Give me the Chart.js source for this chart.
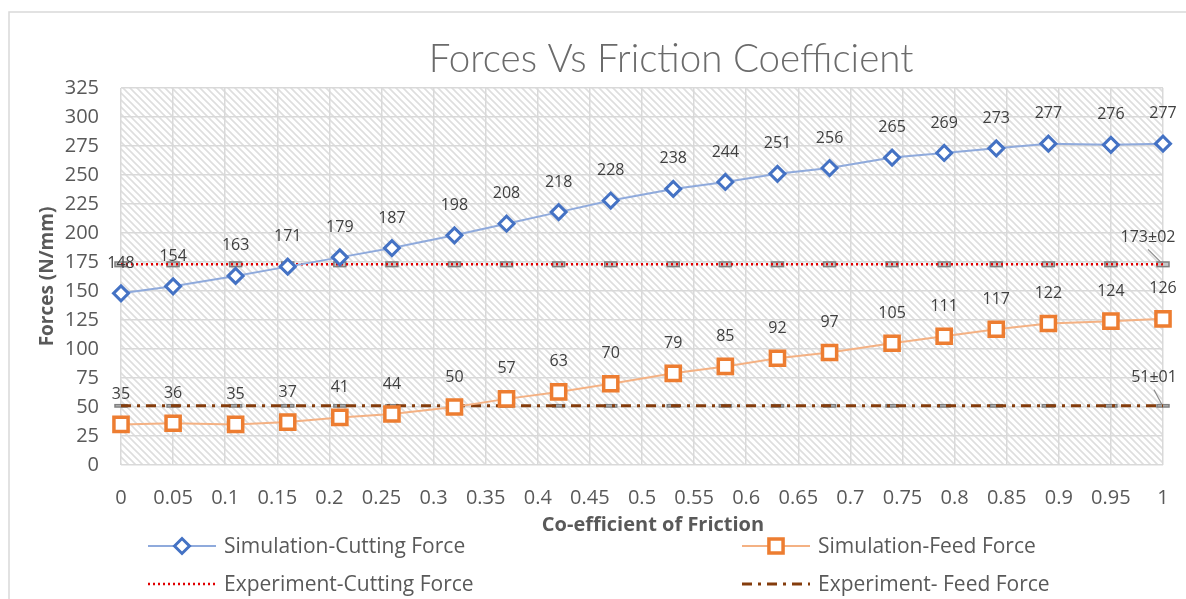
<!DOCTYPE html>
<html>
<head>
<title>Forces Vs Friction Coefficient</title>
<script src="https://cdn.jsdelivr.net/npm/chart.js"></script>
<style>
  html, body { margin: 0; padding: 0; background: #fff; }
</style>
</head>
<body>
<canvas id="forceChart" width="1186" height="599"></canvas>
<script>
// coefficient of friction at each simulated point
const friction = [0, 0.05, 0.11, 0.16, 0.21, 0.26, 0.32, 0.37, 0.42, 0.47,
                  0.53, 0.58, 0.63, 0.68, 0.74, 0.79, 0.84, 0.89, 0.95, 1];
const cuttingSim = [148, 154, 163, 171, 179, 187, 198, 208, 218, 228,
                    238, 244, 251, 256, 265, 269, 273, 277, 276, 277];
const feedSim = [35, 36, 35, 37, 41, 44, 50, 57, 63, 70,
                 79, 85, 92, 97, 105, 111, 117, 122, 124, 126];
const cuttingExp = [173, 173, 173, 173, 173, 173, 173, 173, 173, 173,
                    173, 173, 173, 173, 173, 173, 173, 173, 173, 173];
const feedExp = [51, 51, 51, 51, 51, 51, 51, 51, 51, 51,
                 51, 51, 51, 51, 51, 51, 51, 51, 51, 51];
const cuttingExpErr = 2;
const feedExpErr = 1;
const expLabels = ['173±02', '51±01'];
const seriesNames = ['Simulation-Cutting Force', 'Simulation-Feed Force',
                     'Experiment-Cutting Force', 'Experiment- Feed Force'];
const xTicks = [0, 0.05, 0.1, 0.15, 0.2, 0.25, 0.3, 0.35, 0.4, 0.45, 0.5,
                0.55, 0.6, 0.65, 0.7, 0.75, 0.8, 0.85, 0.9, 0.95, 1];
const yTicks = [0, 25, 50, 75, 100, 125, 150, 175, 200, 225, 250, 275, 300, 325];

const FONT = '"Open Sans", Lato, sans-serif';
const TITLE_FONT = 'Lato, "Open Sans", sans-serif';
const toXY = (ys) => ys.map((y, i) => ({ x: friction[i], y: y }));

// hatch fill for plot area
function hatch() {
    const c = document.createElement('canvas');
    c.width = 7; c.height = 7;
    const g = c.getContext('2d');
    g.strokeStyle = '#dedede';
    g.lineWidth = 1.6;
    g.beginPath();
    g.moveTo(-1, -1); g.lineTo(8, 8);
    g.moveTo(-1, 6); g.lineTo(1, 8);
    g.moveTo(6, -1); g.lineTo(8, 1);
    g.stroke();
    return c;
}

const backdrop = {
    id: 'backdrop',
    beforeDraw(chart) {
        const ctx = chart.ctx, a = chart.chartArea;
        ctx.save();
        ctx.fillStyle = '#fff';
        ctx.fillRect(0, 0, chart.width, chart.height);
        ctx.strokeStyle = '#d9d9d9';
        ctx.lineWidth = 1.5;
        ctx.strokeRect(9, 12, chart.width + 20, chart.height + 20);
        ctx.fillStyle = ctx.createPattern(hatch(), 'repeat');
        ctx.fillRect(a.left, a.top, a.right - a.left, a.bottom - a.top);
        ctx.restore();
    }
};

// small error bars on the experiment lines
const errorBars = {
    id: 'errorBars',
    beforeDatasetsDraw(chart) {
        const ctx = chart.ctx, ys = chart.scales.y;
        const errs = { 2: cuttingExpErr, 3: feedExpErr };
        ctx.save();
        ctx.strokeStyle = '#808080';
        ctx.fillStyle = '#c8c8c8';
        ctx.lineWidth = 1.5;
        Object.keys(errs).forEach(di => {
            const ds = chart.data.datasets[di];
            chart.getDatasetMeta(di).data.forEach((pt, i) => {
                const v = ds.data[i].y;
                const t = ys.getPixelForValue(v + errs[di]);
                const b = ys.getPixelForValue(v - errs[di]);
                ctx.fillRect(pt.x - 6, t, 12, b - t);
                ctx.strokeRect(pt.x - 6, t, 12, b - t);
            });
        });
        ctx.restore();
    }
};

const labelsAndLegend = {
    id: 'labelsAndLegend',
    afterDraw(chart) {
        const ctx = chart.ctx;
        const H = Chart.helpers;
        ctx.save();

        // title
        ctx.fillStyle = '#6b6b6b';
        ctx.font = '300 38.5px ' + TITLE_FONT;
        ctx.textAlign = 'center';
        ctx.textBaseline = 'middle';
        ctx.fillText('Forces Vs Friction Coefficient', 671, 60);

        // x axis title (sits a little right of the plot centre)
        ctx.fillStyle = '#595959';
        ctx.font = 'bold 20px ' + FONT;
        ctx.fillText('Co-efficient of Friction', 653, 525);

        // value labels
        ctx.fillStyle = '#404040';
        ctx.font = '16px ' + FONT;
        [0, 1].forEach(di => {
            const ds = chart.data.datasets[di];
            chart.getDatasetMeta(di).data.forEach((pt, i) => {
                ctx.fillText(String(ds.data[i].y), pt.x, pt.y - 30);
            });
        });

        // end labels of the experiment lines with leader lines
        const offs = [[-15, -27], [-9, -28]];
        [2, 3].forEach((di, k) => {
            const pts = chart.getDatasetMeta(di).data;
            const pt = pts[pts.length - 1];
            const lx = pt.x + offs[k][0], ly = pt.y + offs[k][1];
            ctx.fillStyle = '#404040';
            ctx.fillText(expLabels[k], lx, ly);
            ctx.strokeStyle = '#8c8c8c';
            ctx.lineWidth = 1.2;
            ctx.beginPath();
            ctx.moveTo(lx, ly + 12);
            ctx.lineTo(pt.x - 1, pt.y - 1);
            ctx.stroke();
        });

        // legend
        const slots = [[148, 546], [742, 546], [148, 584], [742, 584]];
        ctx.font = '21px ' + FONT;
        ctx.textAlign = 'left';
        chart.data.datasets.forEach((ds, di) => {
            const [x0, y0] = slots[di];
            ctx.save();
            ctx.strokeStyle = ds.borderColor;
            ctx.lineWidth = ds.borderWidth;
            ctx.setLineDash(ds.borderDash || []);
            ctx.beginPath();
            ctx.moveTo(x0, y0);
            ctx.lineTo(x0 + 68, y0);
            ctx.stroke();
            ctx.setLineDash([]);
            if (ds.pointRadius > 0) {
                ctx.fillStyle = ds.pointBackgroundColor;
                ctx.strokeStyle = ds.pointBorderColor;
                ctx.lineWidth = ds.pointBorderWidth;
                H.drawPoint(ctx, {
                    pointStyle: ds.pointStyle, radius: ds.pointRadius,
                    borderWidth: ds.pointBorderWidth, rotation: 0
                }, x0 + 34, y0);
            }
            ctx.restore();
            ctx.fillStyle = '#595959';
            ctx.fillText(seriesNames[di], x0 + 76, y0 + 1);
        });
        ctx.restore();
    }
};

const ctx = document.getElementById('forceChart').getContext('2d');
new Chart(ctx, {
    type: 'line',
    data: {
        datasets: [{
            label: seriesNames[0],
            data: toXY(cuttingSim),
            borderColor: '#8faadc',
            borderWidth: 2,
            pointStyle: 'rectRot',
            pointRadius: 7.5,
            pointBorderWidth: 3,
            pointBorderColor: '#4472c4',
            pointBackgroundColor: '#ffffff',
            clip: false
        }, {
            label: seriesNames[1],
            data: toXY(feedSim),
            borderColor: '#f4b183',
            borderWidth: 2,
            pointStyle: 'rect',
            pointRadius: 10,
            pointBorderWidth: 3.5,
            pointBorderColor: '#ed7d31',
            pointBackgroundColor: '#ffffff',
            clip: false
        }, {
            label: seriesNames[2],
            data: toXY(cuttingExp),
            borderColor: '#e00000',
            borderWidth: 2.5,
            borderDash: [2, 3],
            pointRadius: 0,
            clip: false
        }, {
            label: seriesNames[3],
            data: toXY(feedExp),
            borderColor: '#843c0c',
            borderWidth: 3,
            borderDash: [10, 6, 3, 6],
            pointRadius: 0,
            clip: false
        }]
    },
    options: {
        responsive: false,
        animation: false,
        layout: { padding: { left: 36, right: 23, top: 88, bottom: 63 } },
        plugins: {
            legend: { display: false },
            title: { display: false },
            tooltip: { enabled: false }
        },
        scales: {
            x: {
                type: 'linear',
                min: 0,
                max: 1,
                afterBuildTicks: s => { s.ticks = xTicks.map(v => ({ value: v })); },
                afterFit: s => { s.height = 71; s.paddingLeft = 0; s.paddingRight = 0; },
                ticks: {
                    autoSkip: false,
                    maxRotation: 0,
                    padding: 21,
                    color: '#595959',
                    font: { family: FONT, size: 20 },
                    callback: v => String(v)
                },
                grid: { color: '#d9d9d9', lineWidth: 1.5, drawTicks: false },
                border: { display: false },
                title: { display: false }
            },
            y: {
                min: 0,
                max: 325,
                afterBuildTicks: s => { s.ticks = yTicks.map(v => ({ value: v })); },
                afterFit: s => { s.width = 85; },
                ticks: {
                    padding: 22,
                    color: '#595959',
                    font: { family: FONT, size: 20 }
                },
                grid: { color: '#d9d9d9', lineWidth: 1.5, drawTicks: false },
                border: { display: false },
                title: {
                    display: true,
                    text: 'Forces (N/mm)',
                    color: '#595959',
                    padding: 0,
                    font: { family: FONT, size: 19, weight: 'bold' }
                }
            }
        }
    },
    plugins: [backdrop, errorBars, labelsAndLegend]
});
</script>
</body>
</html>
